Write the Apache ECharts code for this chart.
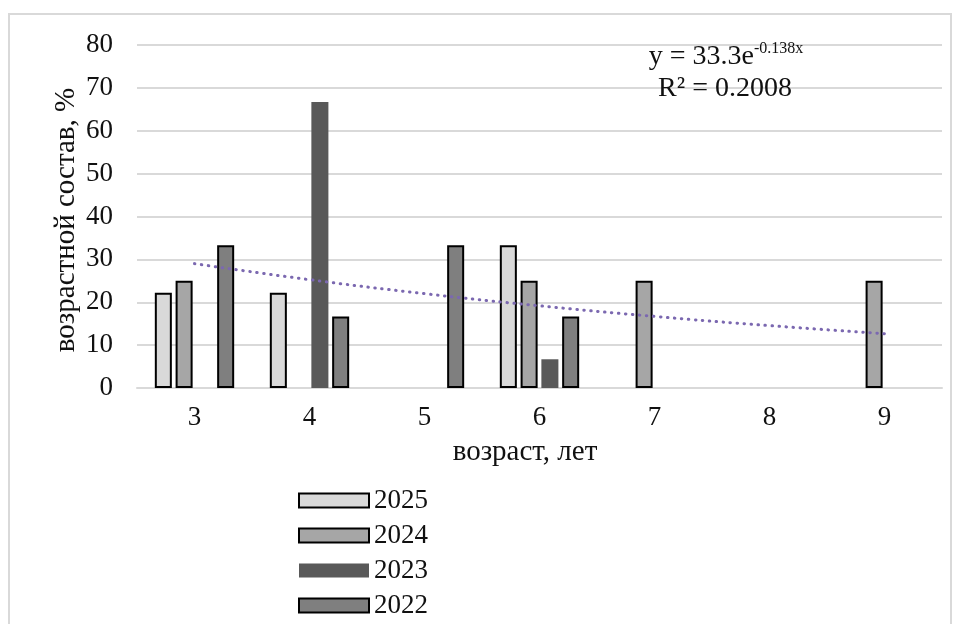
<!DOCTYPE html>
<html>
<head>
<meta charset="utf-8">
<script src="https://cdn.jsdelivr.net/npm/echarts@6/dist/echarts.min.js"></script>
<style>
  html, body { margin: 0; padding: 0; background: #fff; }
  #chart { width: 958px; height: 624px; }
</style>
</head>
<body>
<div id="chart"></div>
<script>
// Age classes (years)
const ages = ['3', '4', '5', '6', '7', '8', '9'];
// Age composition by year, %
const y2025 = [22.2, 22.2, null, 33.3, null, null, null];
const y2024 = [25, null, null, 25, 25, null, 25];
const y2023 = [null, 66.7, null, 6.7, null, null, null];
const y2022 = [33.3, 16.7, 33.3, 16.7, null, null, null];
const yTicks = [0, 10, 20, 30, 40, 50, 60, 70, 80];
// Exponential trend y = a·e^(b·x), x = category number 1..n
const trendA = 33.3;
const trendB = -0.138;
const trendR2 = '0.2008';

const trend = ages.map((_, i) => +(trendA * Math.exp(trendB * (i + 1))).toFixed(2));

const serif = '"Liberation Serif", "Times New Roman", serif';
const ink = '#111';
const chart = echarts.init(document.getElementById('chart'));

function barSeries(name, data, fill, bordered) {
  return {
    name, type: 'bar', data,
    barGap: '22%', barCategoryGap: '31%',
    itemStyle: {
      color: fill,
      borderColor: bordered ? '#000' : fill,
      borderWidth: bordered ? 2 : 0
    }
  };
}

function label(text, x, y, size, align, rotation) {
  return {
    type: 'text', x, y, z: 100, rotation: rotation || 0, silent: true,
    style: {
      text, font: size + 'px ' + serif, fill: ink,
      align: align || 'center', verticalAlign: 'middle'
    }
  };
}

chart.setOption({
  animation: false,
  backgroundColor: '#fff',
  textStyle: { fontFamily: serif },
  grid: { left: 137, right: 16, top: 45, bottom: 236 },
  graphic: [
    {
      type: 'rect', silent: true,
      shape: { x: 9, y: 14, width: 942, height: 620 },
      style: { fill: 'none', stroke: '#d9d9d9', lineWidth: 2 }
    },
    label('возрастной состав, %', 66, 220, 29, 'center', Math.PI / 2),
    label('возраст, лет', 525, 452, 29, 'center'),
    label('y = ' + trendA + 'e', 754, 57, 28, 'right'),
    label(String(trendB) + 'x', 754, 49, 16, 'left'),
    label('R² = ' + trendR2, 725, 89, 28, 'center')
  ],
  legend: {
    orient: 'vertical', left: 298, top: 487, padding: 0,
    icon: 'rect', itemWidth: 70, itemHeight: 14, itemGap: 8,
    data: ['2025', '2024', '2023', '2022'],
    textStyle: { fontSize: 27, fontFamily: serif, color: ink }
  },
  xAxis: {
    type: 'category', data: ages,
    axisLine: { lineStyle: { color: '#d9d9d9', width: 2 } },
    axisTick: { show: false },
    axisLabel: { fontSize: 27, fontFamily: serif, color: ink, margin: 16 }
  },
  yAxis: {
    type: 'value', min: 0, max: 80, interval: 10,
    axisLine: { show: false }, axisTick: { show: false },
    splitLine: { lineStyle: { color: '#d9d9d9', width: 2 } },
    axisLabel: {
      fontSize: 27, fontFamily: serif, color: ink, margin: 24,
      formatter: v => yTicks.includes(v) ? String(v) : ''
    }
  },
  series: [
    barSeries('2025', y2025, '#d9d9d9', true),
    barSeries('2024', y2024, '#a6a6a6', true),
    barSeries('2023', y2023, '#595959', false),
    barSeries('2022', y2022, '#7f7f7f', true),
    {
      name: 'trend', type: 'line', data: trend, smooth: true,
      symbol: 'none', z: 5,
      lineStyle: { color: '#7b68b0', width: 3, type: [0.5, 6.5], cap: 'round' }
    }
  ]
});
</script>
</body>
</html>
